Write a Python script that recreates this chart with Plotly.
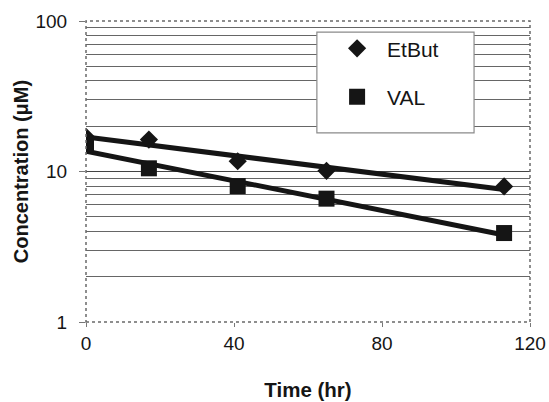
import numpy as np
import plotly.graph_objects as go

# Sampling times (hr) and measured concentrations (uM)
time_hr = [0, 17, 41, 65, 113]
etbut = [17.0, 16.3, 11.7, 10.1, 7.96]
val = [15.1, 10.5, 8.0, 6.6, 3.9]

x_ticks = [0, 40, 80, 120]
y_ticks = [1, 10, 100]
y_minor = [2, 3, 4, 5, 6, 7, 8, 9, 20, 30, 40, 50, 60, 70, 80, 90]


def exp_fit(t, c):
    """Exponential (log-linear) least-squares trendline over the sampled span."""
    t = np.asarray(t, dtype=float)
    slope, icpt = np.polyfit(t, np.log10(c), 1)
    tt = np.array([t.min(), t.max()])
    return tt, 10 ** (icpt + slope * tt)


INK = "#151515"
FONT = "Liberation Sans, Arial, sans-serif"

fig = go.Figure()

for name, data in (("EtBut", etbut), ("VAL", val)):
    tt, cc = exp_fit(time_hr, data)
    fig.add_trace(go.Scatter(x=tt, y=cc, mode="lines", showlegend=False,
                             line=dict(color=INK, width=5), hoverinfo="skip"))

fig.add_trace(go.Scatter(x=time_hr, y=etbut, mode="markers", name="EtBut",
                         legendgroup="a",
                         marker=dict(symbol="diamond", size=14, color=INK)))
fig.add_trace(go.Scatter(x=time_hr, y=val, mode="markers", name="VAL",
                         legendgroup="b",
                         marker=dict(symbol="square", size=16, color=INK)))

# plot frame and legend box
fig.add_shape(type="rect", xref="paper", yref="paper", x0=0, x1=1, y0=0, y1=1,
              line=dict(color="#6a6a6a", width=1.5, dash="dot"), layer="above")
fig.add_shape(type="rect", xref="paper", yref="paper",
              x0=0.520, x1=0.874, y0=0.628, y1=0.963,
              fillcolor="white", line=dict(color="#8a8a8a", width=1.2),
              layer="above")

fig.update_layout(
    width=549, height=402,
    margin=dict(l=86, r=19, t=21, b=80),
    plot_bgcolor="white", paper_bgcolor="white",
    font=dict(family=FONT, color=INK, size=19),
    showlegend=True,
    legend=dict(x=0.543, y=0.976, xanchor="left", yanchor="top",
                bgcolor="rgba(0,0,0,0)", borderwidth=0,
                font=dict(size=21, family=FONT, color=INK),
                itemwidth=50, tracegroupgap=18, traceorder="grouped"),
    xaxis=dict(range=[0, 120], tickvals=x_ticks, ticks="outside", ticklen=4,
               tickcolor="#777", showgrid=False, zeroline=False, showline=False,
               automargin=False, tickfont=dict(size=19),
               title=dict(text="<b>Time (hr)</b>", font=dict(size=20.5), standoff=29)),
    yaxis=dict(type="log", range=[0, 2], tickvals=y_ticks, ticktext=["1", "10", "100"],
               ticks="outside", ticklen=6, tickcolor="#777",
               showgrid=True, gridcolor="#444", gridwidth=1, zeroline=False,
               showline=False, tickfont=dict(size=19), ticklabelstandoff=8,
               automargin=False,
               minor=dict(tickvals=y_minor, showgrid=True, gridcolor="#666",
                          gridwidth=1, ticks=""),
               title=dict(text="<b>Concentration (\u03bcM)</b>", font=dict(size=20),
                          standoff=1)),
)

fig.write_html("out.html")
